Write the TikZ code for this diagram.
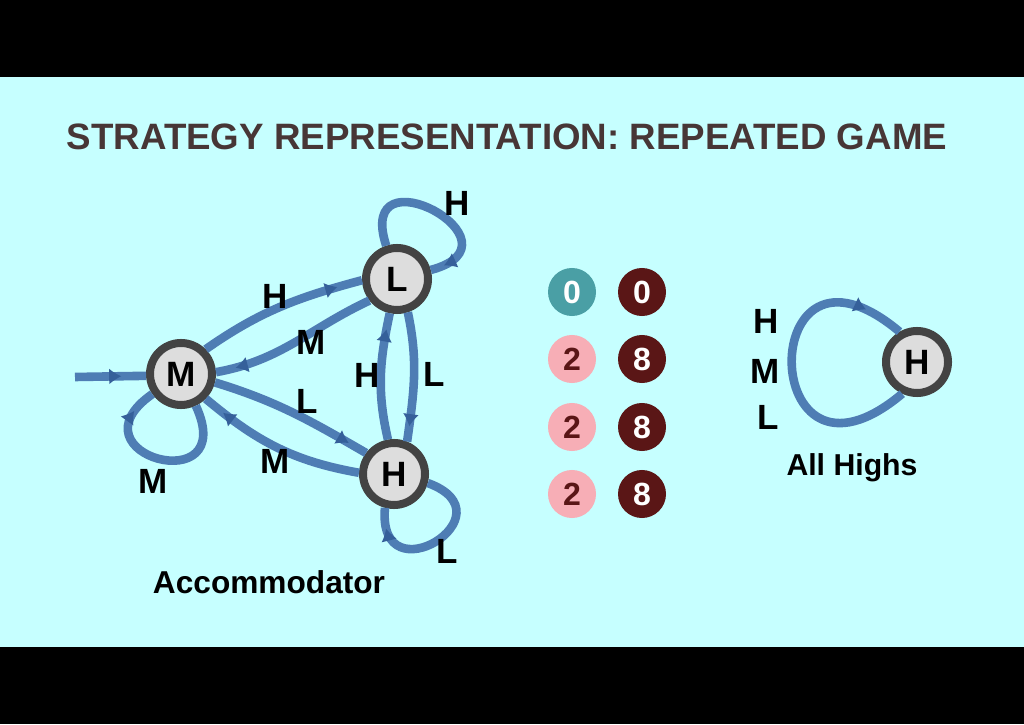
\documentclass[tikz,border=0pt]{standalone}
\usepackage{fontspec}
\setmainfont{Liberation Sans}
\usetikzlibrary{arrows.meta,decorations.markings}

\definecolor{sky}{HTML}{C6FFFF}
\definecolor{wire}{HTML}{4E7DB4}
\definecolor{wiretip}{HTML}{35609A}
\definecolor{ring}{HTML}{434343}
\definecolor{disc}{HTML}{DDDDDD}
\definecolor{chipteal}{HTML}{4A9FA5}
\definecolor{rose}{HTML}{F7AEB6}
\definecolor{wine}{HTML}{5A1616}
\definecolor{headgray}{HTML}{473636}

\begin{document}
\begin{tikzpicture}[x=0.025cm, y=0.025cm,
  state/.style={circle, draw=ring, fill=disc, line width=0.2cm, minimum size=1.55cm, inner sep=0pt, font=\bfseries\fontsize{25}{30}\selectfont},
  chip/.style={circle, minimum size=1.2cm, inner sep=0pt, font=\bfseries\fontsize{22.8}{27}\selectfont},
  lab/.style={font=\bfseries\fontsize{24.9}{30}\selectfont},
  caption/.style={font=\bfseries\fontsize{22.5}{27}\selectfont},
  headline/.style={text=headgray, font=\bfseries\fontsize{26.1}{31}\selectfont},
  wire/.style={draw=wire, line width=0.215cm},
  tipat/.style={postaction={decorate, decoration={markings, mark=at position #1 with {\arrow[color=wiretip]{Latex[length=0.3cm,width=0.38cm,line width=0pt]}}}}}]
% backdrop
\fill[black] (0,0) rectangle (1024,724);
\fill[sky] (0,77) rectangle (1024,647);

\node[headline] (title) at (507,587) {STRATEGY REPRESENTATION: REPEATED GAME};

% accommodator machine
\node[state] (M) at (181,350) {M};
\node[state] (L) at (397,445) {L};
\node[state] (H) at (394,250) {H};
\coordinate (entry) at (75,347);

\draw[wire,tipat=0.65] (entry) -- (M.183);
\draw[wire,tipat=0.85] (M.45) to[out=35,in=195] (L.182);
\draw[wire,tipat=0.88] (L.218) to[out=205,in=10] (M.3);
\draw[wire,tipat=0.88] (M.-14) to[out=-17,in=150] (H.143);
\draw[wire,tipat=0.87] (H.178) to[out=170,in=-40] (M.-45);
\draw[wire,tipat=0.88] (L.-72) to[out=-78,in=82] (H.68);
\draw[wire,tipat=0.87] (H.100) to[out=103,in=258] (L.258);
\draw[wire,tipat=0.92] (L.108) to[out=108,in=15,distance=2.6cm] (L.15);
\draw[wire,tipat=0.86] (M.-65) to[out=-65,in=215,distance=2.65cm] (M.215);
\draw[wire,tipat=0.87] (H.-15) to[out=-20,in=265,distance=2.3cm] (H.255);

\node[lab] (lMtoL) at (275,428) {H};
\node[lab] (lLtoM) at (311,382) {M};
\node[lab] (lMtoH) at (307,323) {L};
\node[lab] (lHtoM) at (275,263) {M};
\node[lab] (lHtoL) at (367,349) {H};
\node[lab] (lLtoH) at (434,350) {L};
\node[lab] (lLloop) at (457,521) {H};
\node[lab] (lMloop) at (153,243) {M};
\node[lab] (lHloop) at (447,173) {L};
\node[caption] (acc) at (269,142) {Accommodator};

% payoffs
\node[chip, fill=chipteal, text=white] (s1a) at (572,432) {0};
\node[chip, fill=wine, text=white] (s1b) at (642,432) {0};
\foreach \r/\yy in {2/365,3/297,4/230} {
  \node[chip, fill=rose, text=wine] (s\r a) at (572,\yy) {2};
  \node[chip, fill=wine, text=white] (s\r b) at (642,\yy) {8};
}

% all highs machine
\node[state] (H2) at (917,362) {H};
\draw[wire,tipat=0.87] (H2.245) to[out=220,in=140,distance=4.75cm] (H2.120);
\node[lab] (lH2h) at (766,403) {H};
\node[lab] (lH2m) at (765,353) {M};
\node[lab] (lH2l) at (768,307) {L};
\node[caption, font=\bfseries\fontsize{21.5}{26}\selectfont] (allh) at (852,256) {All Highs};
\end{tikzpicture}
\end{document}
